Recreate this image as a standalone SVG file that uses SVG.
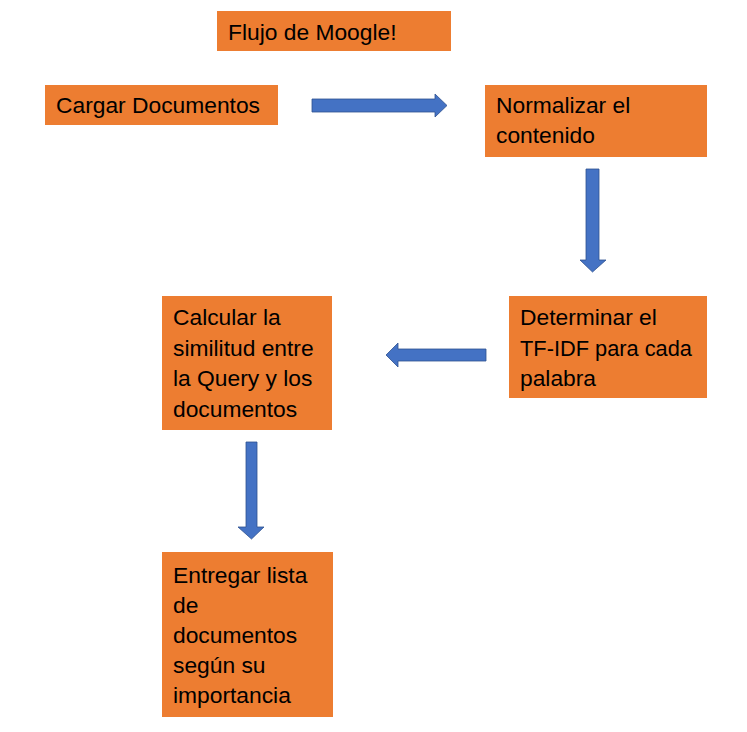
<svg xmlns="http://www.w3.org/2000/svg" width="747" height="732" viewBox="0 0 747 732">
<style>
.box{fill:#ED7D31;}
.t{font-family:"Liberation Sans",Arial,sans-serif;font-size:22.8px;fill:#000;}
.arr{fill:#4472C4;stroke:#2F528F;stroke-width:0.8;}
</style>
<rect width="747" height="732" fill="#fff"/>
<g id="title"><rect class="box" x="217" y="11" width="234" height="40"/><text class="t" x="228" y="40">Flujo de Moogle!</text></g>
<g id="cargar"><rect class="box" x="45" y="85" width="233" height="40"/><text class="t" x="56" y="113">Cargar Documentos</text></g>
<g id="normalizar"><rect class="box" x="485" y="85" width="222" height="72"/><text class="t" x="496" y="113">Normalizar el</text><text class="t" x="496" y="143">contenido</text></g>
<g id="determinar"><rect class="box" x="509" y="296" width="198" height="102"/><text class="t" x="520" y="325">Determinar el</text><text class="t" x="520" y="356" textLength="172" lengthAdjust="spacingAndGlyphs">TF-IDF para cada</text><text class="t" x="520" y="386">palabra</text></g>
<g id="calcular"><rect class="box" x="162" y="296" width="170" height="134"/><text class="t" x="173" y="325">Calcular la</text><text class="t" x="173" y="356">similitud entre</text><text class="t" x="173" y="386">la Query y los</text><text class="t" x="173" y="417">documentos</text></g>
<g id="entregar"><rect class="box" x="162" y="552" width="171" height="165"/><text class="t" x="173" y="583">Entregar lista</text><text class="t" x="173" y="613">de</text><text class="t" x="173" y="643">documentos</text><text class="t" x="173" y="673">según su</text><text class="t" x="173" y="703">importancia</text></g>
<g id="connectors">
<polygon class="arr" points="312,99 435,99 435,94 447,105.5 435,117 435,112 312,112"/>
<polygon class="arr" points="586,169 599,169 599,260 606,260 592.5,272 580,260 586,260"/>
<polygon class="arr" points="486,349 398,349 398,343 386,355 398,367 398,361 486,361"/>
<polygon class="arr" points="246,442 257,442 257,527 264,527 251.5,539 238,527 246,527"/>
</g>
</svg>
